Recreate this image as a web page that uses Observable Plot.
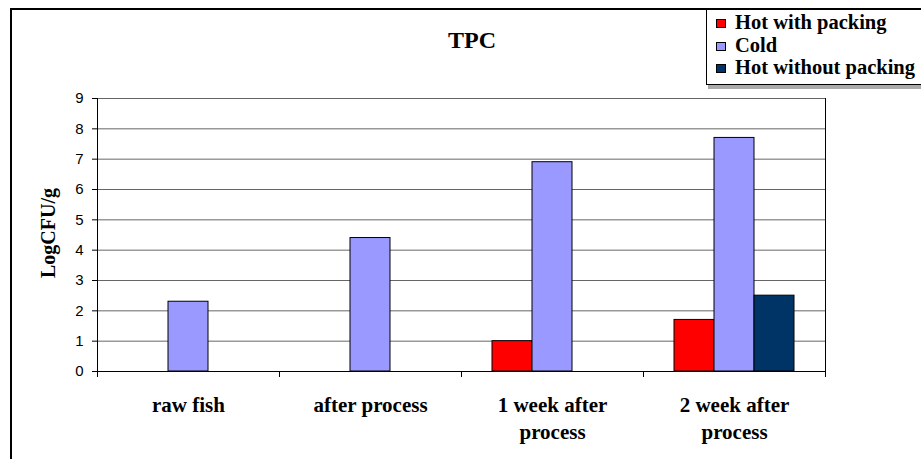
<!DOCTYPE html>
<html><head><meta charset="utf-8">
<script src="https://cdn.jsdelivr.net/npm/d3@7"></script>
<script src="https://cdn.jsdelivr.net/npm/@observablehq/plot@0.6"></script>
<style>
body{margin:0;background:#fff}
#wrap{position:relative;width:921px;height:459px;overflow:hidden;background:#fff}
#wrap svg{position:absolute;left:0;top:0}
#border{position:absolute;left:10px;top:8px;width:1000px;height:1000px;border-left:2px solid #000;border-top:2px solid #000;box-sizing:border-box}
#title{position:absolute;left:372px;width:200px;top:28px;text-align:center;font:bold 24px "Liberation Serif";line-height:24px;color:#000}
#ylabel{position:absolute;left:-53px;top:223px;width:200px;height:20px;line-height:20px;text-align:center;font:bold 20px "Liberation Serif";transform:rotate(-90deg);color:#000}
#legend{position:absolute;left:706px;top:9px;width:240px;height:76px;border:1px solid #000;background:#fff;box-shadow:2px 4px 0 #aaa;font:bold 20.5px "Liberation Serif";padding-top:1px;box-sizing:border-box;color:#000}
.row{height:22.5px;line-height:22.5px;padding-left:9px;white-space:nowrap}
.sw{display:inline-block;width:10px;height:9px;border:1px solid #000;box-sizing:border-box;margin-right:9px;margin-bottom:1px;vertical-align:baseline}
</style>
</head><body>
<div id="wrap">
  <div id="border"></div>
  <div id="title"></div>
  <div id="ylabel"></div>
  <div id="legend"></div>
</div>
<script>
const titleText = "TPC";
const yLabelText = "LogCFU/g";
const categories = ["raw fish", "after process", "1 week after\nprocess", "2 week after\nprocess"];
const series = ["Hot with packing", "Cold", "Hot without packing"];
const colors = ["#ff0000", "#9999ff", "#003366"];
const hotWithPacking = [null, null, 1.0, 1.7];
const cold = [2.3, 4.4, 6.9, 7.7];
const hotWithoutPacking = [null, null, null, 2.5];
const yTicks = [0, 1, 2, 3, 4, 5, 6, 7, 8, 9];

const seriesValues = [hotWithPacking, cold, hotWithoutPacking];
const data = [];
categories.forEach((c, i) => {
  series.forEach((s, j) => {
    const v = seriesValues[j][i];
    if (v != null) data.push({category: c, series: s, value: v});
  });
});

document.getElementById("title").textContent = titleText;
document.getElementById("ylabel").textContent = yLabelText;
const legend = document.getElementById("legend");
series.forEach((s, j) => {
  const row = document.createElement("div");
  row.className = "row";
  const sw = document.createElement("span");
  sw.className = "sw";
  sw.style.background = colors[j];
  row.appendChild(sw);
  row.appendChild(document.createTextNode(s));
  legend.appendChild(row);
});

const plot = Plot.plot({
  width: 921,
  height: 459,
  marginLeft: 97,
  marginRight: 96,
  marginTop: 98,
  marginBottom: 88,
  style: {background: "transparent", fontFamily: "Liberation Sans", fontSize: "15px", color: "#000"},
  fx: {domain: categories, padding: 0, label: null},
  x: {domain: series, paddingInner: 0, paddingOuter: 0.72, axis: null},
  y: {domain: [0, 9], label: null},
  color: {domain: series, range: colors},
  marks: [
    Plot.gridY(yTicks, {stroke: "#666", strokeOpacity: 1}),
    Plot.ruleY([0], {stroke: "#000"}),
    Plot.barY(data, {fx: "category", x: "series", y: "value", fill: "series", stroke: "#000", strokeWidth: 1}),
    Plot.axisY(yTicks, {tickSize: 5, tickPadding: 9, fontSize: 15, fontFamily: "Liberation Sans", label: null}),
    Plot.axisFx({anchor: "bottom", tickSize: 0, tickPadding: 21, fontSize: 21, fontWeight: "bold", fontFamily: "Liberation Serif", lineHeight: 1.3, label: null})
  ]
});
document.getElementById("wrap").appendChild(plot);

// axis lines and category boundary ticks, positioned from the scales
const fx = plot.scale("fx"), y = plot.scale("y");
const y0 = y.apply(0), yTop = y.apply(d3.max(yTicks));
const edges = categories.map(c => fx.apply(c));
edges.push(edges[edges.length - 1] + fx.bandwidth);
const svg = d3.select(plot);
const g = svg.append("g").attr("stroke", "#000").attr("stroke-width", 1);
edges.forEach((e, i) => {
  const x = Math.round(e) + 0.5;
  const top = (i === 0 || i === edges.length - 1) ? yTop : y0;
  g.append("line").attr("x1", x).attr("x2", x).attr("y1", top).attr("y2", y0 + 6);
});
</script>
</body></html>
